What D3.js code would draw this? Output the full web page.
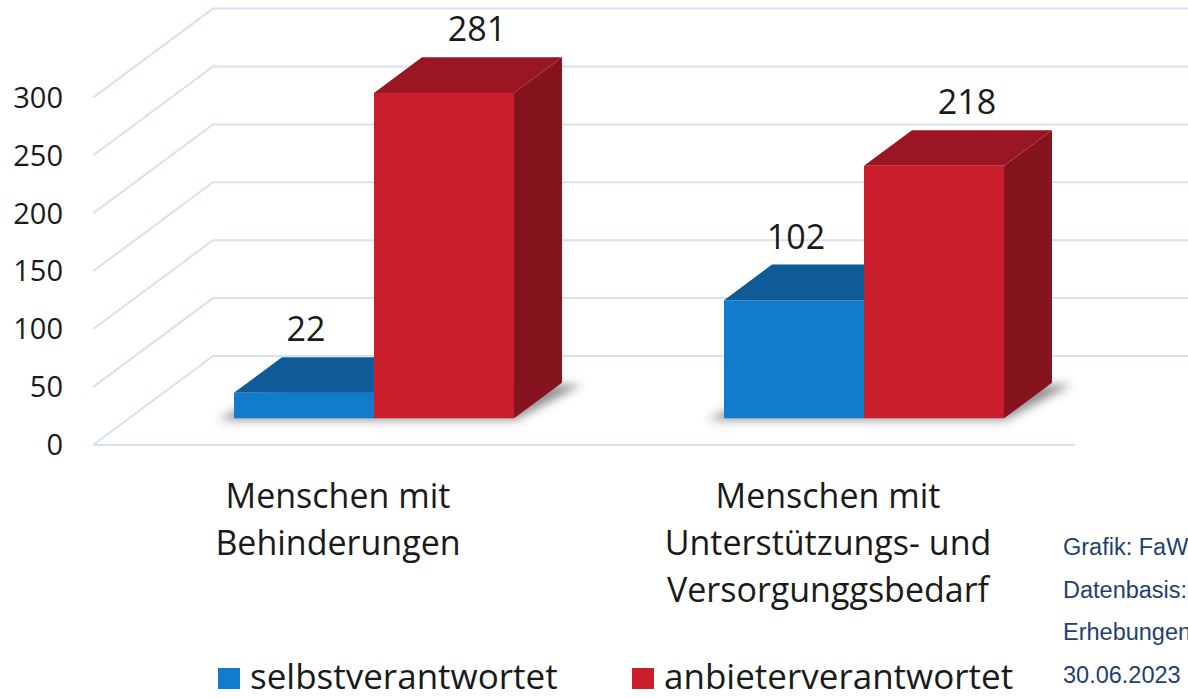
<!DOCTYPE html>
<html lang="de">
<head>
  <meta charset="UTF-8">
  <title>Selbst- und anbieterverantwortet</title>
  <script src="https://d3js.org/d3.v7.min.js"></script>
  <style>
    body {
      margin: 0;
      padding: 0;
      background: #fff;
    }
    svg {
      display: block;
      font-family: "Open Sans", "Noto Sans", sans-serif;
    }
    .grid {
      stroke: #d5e2f3;
      stroke-width: 2;
      fill: none;
    }
    .tick-label {
      font-size: 29px;
      fill: #1a1a1a;
    }
    .value-label, .cat-label {
      font-size: 34px;
      fill: #1a1a1a;
    }
    .legend-label {
      font-size: 35px;
      fill: #1a1a1a;
    }
    .note {
      font-family: "Liberation Sans", Arial, sans-serif;
      font-size: 23.5px;
      fill: #1f3f70;
    }
  </style>
</head>
<body>
  <script>
    // chart data
    const categoryLines = [
      ["Menschen mit", "Behinderungen"],
      ["Menschen mit", "Unterstützungs- und", "Versorgunggsbedarf"]
    ];
    const seriesNames = ["selbstverantwortet", "anbieterverantwortet"];
    const selbst = [22, 102];
    const anbieter = [281, 218];
    const yTicks = [0, 50, 100, 150, 200, 250, 300];
    const notes = ["Grafik: FaW", "Datenbasis:", "Erhebungen", "30.06.2023"];

    const width = 1188;
    const height = 698;

    // colours per series: front, top, side
    const colors = [
      { front: "#127bcb", top: "#0e5b98", side: "#0c4f86" },
      { front: "#ca1e2d", top: "#9a1623", side: "#85141f" }
    ];

    // 3d look: full depth of the floor / walls, and the slice the bars take
    const depth = { dx: 120, dy: -89 };
    const z0 = 0.3, z1 = 0.7;

    const svg = d3.select("body").append("svg")
      .attr("width", width)
      .attr("height", height);

    const defs = svg.append("defs");
    defs.append("filter")
      .attr("id", "soft")
      .attr("x", "-20%").attr("y", "-50%")
      .attr("width", "140%").attr("height", "200%")
      .append("feGaussianBlur")
      .attr("stdDeviation", 5);

    const x = d3.scaleBand()
      .domain(d3.range(categoryLines.length))
      .range([93, 1073])
      .paddingInner(0.4286)
      .paddingOuter(0.2143);

    const xInner = d3.scaleBand()
      .domain(d3.range(seriesNames.length))
      .range([0, x.bandwidth()]);

    const y = d3.scaleLinear()
      .domain([0, 300])
      .range([445, 445 - 347.4]);

    // project a point from (front-plane x, value, depth fraction) to screen
    function proj(px, v, z) {
      return [px + depth.dx * z, y(v) + depth.dy * z];
    }

    // gridlines: left wall diagonal + back wall horizontal
    const gridG = svg.append("g");
    yTicks.forEach(t => {
      const a = proj(x.range()[0], t, 0);
      const b = proj(x.range()[0], t, 1);
      gridG.append("polyline")
        .attr("class", "grid")
        .attr("points", [a, b, [width, b[1]]].map(p => p.join(",")).join(" "));
    });
    // floor front edge
    gridG.append("line")
      .attr("class", "grid")
      .attr("x1", x.range()[0]).attr("y1", y(0))
      .attr("x2", x.range()[1] + 2).attr("y2", y(0));

    // y tick labels
    svg.append("g")
      .selectAll("text")
      .data(yTicks)
      .join("text")
      .attr("class", "tick-label")
      .attr("x", 63)
      .attr("y", d => y(d))
      .attr("dy", "0.35em")
      .attr("text-anchor", "end")
      .text(d => d);

    const values = [selbst, anbieter];
    const bars = [];
    categoryLines.forEach((_, ci) => {
      seriesNames.forEach((_, si) => {
        bars.push({
          ci, si,
          value: values[si][ci],
          x0: x(ci) + xInner(si),
          x1: x(ci) + xInner(si) + xInner.bandwidth()
        });
      });
    });

    // floor shadows under each group
    const shadowG = svg.append("g").attr("filter", "url(#soft)");
    categoryLines.forEach((_, ci) => {
      const gx0 = x(ci), gx1 = x(ci) + x.bandwidth();
      const pts = [
        proj(gx0 - 14, 0, z0 - 0.02),
        proj(gx1 + 4, 0, z0 - 0.02),
        proj(gx1 + 22, 0, z1 - 0.02),
        proj(gx0 + 6, 0, z1 - 0.02)
      ];
      shadowG.append("polygon")
        .attr("points", pts.map(p => p.join(",")).join(" "))
        .attr("fill", "#3a3a3a")
        .attr("opacity", 0.55);
    });

    // bars, left to right so each covers the side of its left neighbour
    const barG = svg.append("g");
    bars.forEach(b => {
      const c = colors[b.si];
      const fbl = proj(b.x0, 0, z0), fbr = proj(b.x1, 0, z0);
      const ftl = proj(b.x0, b.value, z0), ftr = proj(b.x1, b.value, z0);
      const btl = proj(b.x0, b.value, z1), btr = proj(b.x1, b.value, z1);
      const bbr = proj(b.x1, 0, z1);
      const poly = (pts, fill) => barG.append("polygon")
        .attr("points", pts.map(p => p.join(",")).join(" "))
        .attr("fill", fill);
      poly([fbr, ftr, btr, bbr], c.side);
      poly([ftl, ftr, btr, btl], c.top);
      poly([fbl, fbr, ftr, ftl], c.front);
    });

    // value labels
    const labelDx = [2, 33];
    svg.append("g")
      .selectAll("text")
      .data(bars)
      .join("text")
      .attr("class", "value-label")
      .attr("text-anchor", "middle")
      .attr("x", d => (d.x0 + d.x1) / 2 + depth.dx * z0 + labelDx[d.si])
      .attr("y", d => proj(d.x0, d.value, z1)[1] - 16)
      .text(d => d.value);

    // category labels
    const catG = svg.append("g");
    categoryLines.forEach((lines, ci) => {
      const t = catG.append("text")
        .attr("class", "cat-label")
        .attr("text-anchor", "middle")
        .attr("x", x(ci) + x.bandwidth() / 2)
        .attr("y", 508);
      lines.forEach((line, li) => {
        t.append("tspan")
          .attr("x", x(ci) + x.bandwidth() / 2)
          .attr("y", 508 + li * 47)
          .text(line);
      });
    });

    // legend
    const legendX = [218, 632];
    const legend = svg.append("g")
      .selectAll("g")
      .data(seriesNames)
      .join("g")
      .attr("transform", (d, i) => `translate(${legendX[i]},668)`);
    legend.append("rect")
      .attr("width", 22)
      .attr("height", 21)
      .attr("fill", (d, i) => colors[i].front);
    legend.append("text")
      .attr("class", "legend-label")
      .attr("x", 32)
      .attr("y", 21)
      .text(d => d);

    // source note at the right edge
    svg.append("g")
      .selectAll("text")
      .data(notes)
      .join("text")
      .attr("class", "note")
      .attr("x", 1063)
      .attr("y", (d, i) => 555 + i * 42.7)
      .text(d => d);
  </script>
</body>
</html>
